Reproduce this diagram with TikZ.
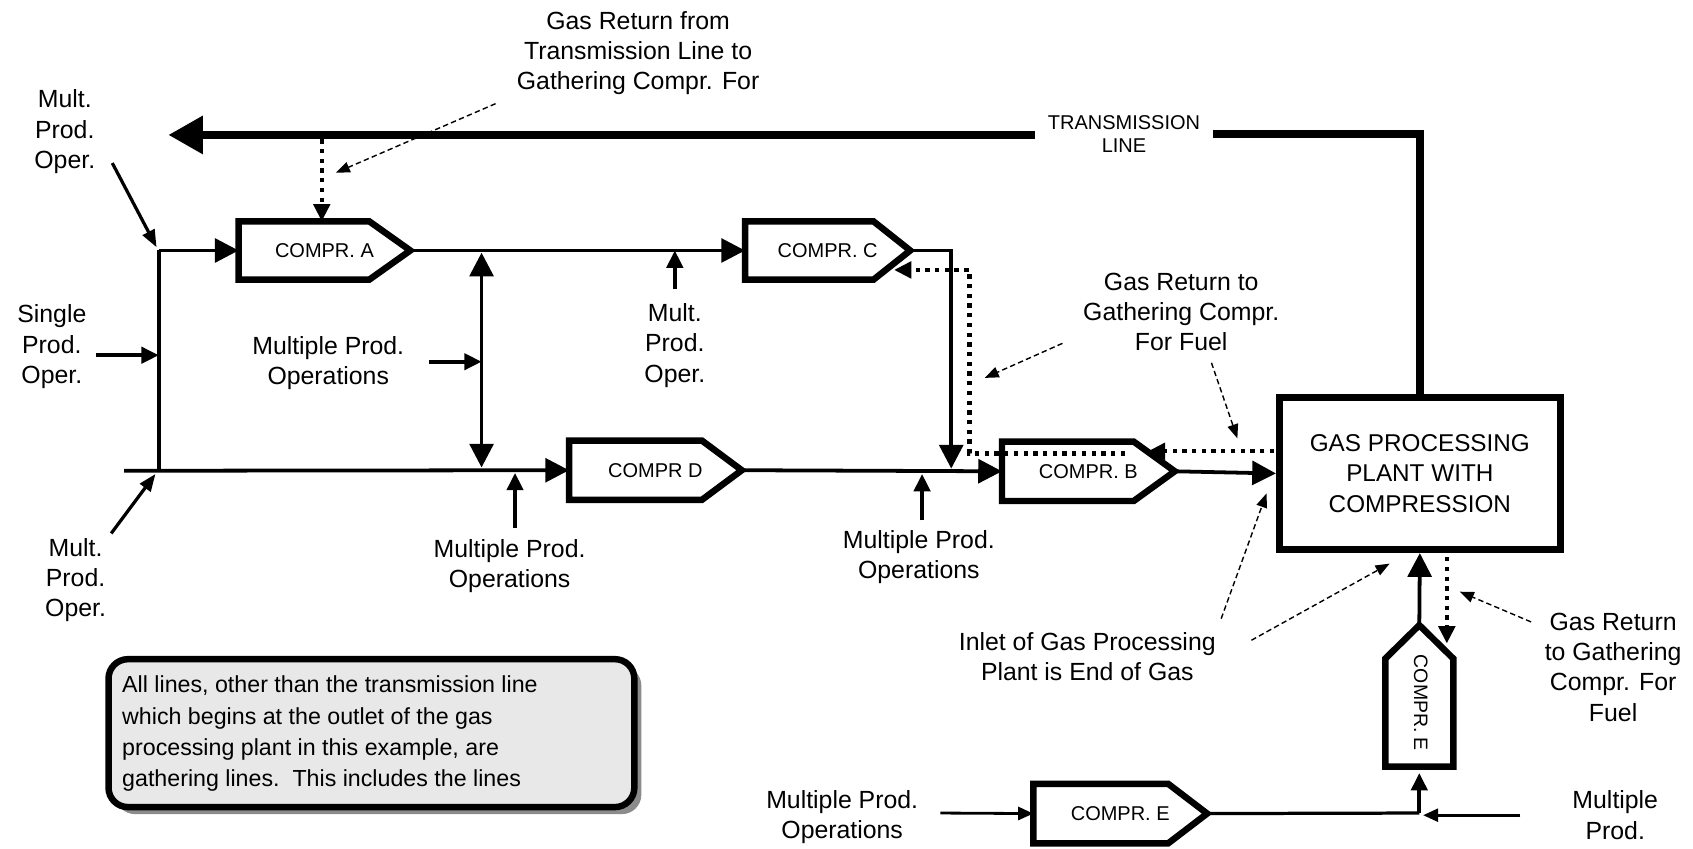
\documentclass[tikz,border=0pt]{standalone}
\usepackage{fontspec}
\setmainfont{Liberation Sans}
\usetikzlibrary{arrows.meta,calc}
\definecolor{notefill}{HTML}{E8E8E8}
\definecolor{noteshadow}{HTML}{8C8C8C}
\begin{document}
\begin{tikzpicture}[x=1pt,y=-1pt,
  lbl/.style={align=center,font=\fontsize{23}{28}\selectfont,inner sep=0pt},
  clabel/.style={font=\fontsize{18.5}{21}\selectfont,inner sep=0pt,outer sep=0pt},
  compr/.style={line width=6pt,line join=miter},
  flow/.style={line width=3.5pt,-{Triangle[length=22pt,width=22pt]}},
  feed/.style={line width=3.5pt,-{Triangle[length=16pt,width=15pt]}},
  thinfeed/.style={line width=2.6pt,-{Triangle[length=14pt,width=12pt]}},
  dots/.style={line width=4pt,dash pattern=on 4pt off 5pt,-{Triangle[length=16pt,width=15pt]}},
  remark/.style={line width=1.3pt,dash pattern=on 5pt off 3pt,-{Triangle[length=13pt,width=10pt]}},
  ptr/.style={line width=3pt,-{Triangle[length=16pt,width=12pt]}}
]
\useasboundingbox (0,0) rectangle (1568,786);

% ---------- compressors (node covers box incl. tip) ----------
\node[clabel,minimum width=159pt,minimum height=54pt] (A) at (300.5,232) {COMPR. A};
\node[clabel,minimum width=153pt,minimum height=54pt] (C) at (766.5,232) {COMPR. C};
\node[clabel,minimum width=160pt,minimum height=55pt] (D) at (607,435.5) {COMPR D};
\node[clabel,minimum width=160pt,minimum height=55pt] (B) at (1008,436.5) {COMPR. B};
\node[clabel,minimum width=161pt,minimum height=55pt] (F) at (1037.5,753.5) {COMPR. E};
\foreach \n/\s in {A/38,C/34,D/37,B/38,F/36}{
  \draw[compr] (\n.north west) -- ($(\n.north east)+(-\s,0)$) -- (\n.east)
     -- ($(\n.south east)+(-\s,0)$) -- (\n.south west) -- cycle;
}
% vertical compressor E
\node[minimum width=63pt,minimum height=131pt,inner sep=0pt,outer sep=0pt] (E) at (1314.5,644.5) {};
\draw[compr] (E.south west) -- (E.south east) -- ($(E.north east)+(0,31)$) -- (E.north)
   -- ($(E.north west)+(0,31)$) -- cycle;
\node[font=\fontsize{18}{20}\selectfont,rotate=-90,inner sep=0pt] (Elbl) at (1316,651) {COMPR. E};

% ---------- gas processing plant ----------
\node[draw,line width=6.5pt,minimum width=260pt,minimum height=141pt,align=center,
      font=\fontsize{22.5}{28}\selectfont] (P) at (1315,438.5)
      {GAS PROCESSING\\PLANT WITH\\COMPRESSION};

% ---------- transmission line ----------
\node[align=center,font=\fontsize{18.5}{21}\selectfont,inner sep=0pt,minimum width=164pt] (TL) at (1041,124)
      {TRANSMISSION\\LINE};
\coordinate (tEnd) at (156,125);
\draw[line width=7pt,line join=miter] (P.north) |- (TL.east);
\draw[line width=7pt,-{Triangle[length=32pt,width=34pt]}] (TL.west |- tEnd) -- (tEnd);

% ---------- gathering lines ----------
\coordinate (j1) at (147,232);
\coordinate (j2) at (147,436);
\coordinate (b0) at (115,436);
\draw[line width=3.5pt] (j1) -- (j2);
\draw[flow] (j1) -- (A.west);
\draw[flow] (b0) -- (D.west);
\draw[flow] (A.east) -- (C.west);
\coordinate (cdown) at (881,232);
\coordinate (cend) at (881,434);
\draw[line width=3.5pt,line join=miter,-{Triangle[length=22pt,width=22pt]}] (C.east) -- (cdown) -- (cend);
\draw[flow] (D.east) -- (B.west);
\draw[flow] (B.east) -- (P.west);
\coordinate (m1) at (446,234);
\coordinate (m2) at (446,433);
\draw[line width=3.5pt,{Triangle[length=22pt,width=22pt]}-{Triangle[length=22pt,width=22pt]}] (m1) -- (m2);

% ---------- E and F ----------
\coordinate (Ej) at (1314.5,753);
\coordinate (Fr) at (1408,755);
\coordinate (Frt) at (1318,755);
\coordinate (Fl) at (871,753);
\draw[flow] (E.north) -- (P.south);
\draw[line width=3pt] (F.east) -- (Ej);
\draw[feed] (Ej) -- ($(E.south)+(0,6)$);
\draw[thinfeed] (Fr) -- (Frt);
\draw[thinfeed] (Fl) -- (F.west);

% ---------- dotted fuel-return lines ----------
\coordinate (tA) at (298,129);
\draw[dots] (tA) -- (tA |- A.north);
\coordinate (pd1) at (1180,418);
\coordinate (bd1) at (1063,418);
\draw[dots] (pd1) -- (bd1);
\coordinate (bd2) at (1042,420);
\coordinate (cd1) at (898,420);
\coordinate (cd2) at (898,250);
\coordinate (cd3) at (828,250);
\draw[dots] (bd2) -- (cd1) -- (cd2) -- (cd3);
\coordinate (pe1) at (1340,516);
\coordinate (pe2) at (1340,596);
\draw[dots] (pe1) -- (pe2);

% ---------- labels ----------
\node[lbl] (GR1) at (591,49) {Gas Return from\\Transmission Line to\\Gathering Compr. For};
\node[lbl] (ML1) at (60,122) {Mult.\\Prod.\\Oper.};
\node[lbl] (SP) at (48,321) {Single\\Prod.\\Oper.};
\node[lbl] (ML2) at (70,537) {Mult.\\Prod.\\Oper.};
\node[lbl] (MP1) at (304,336) {Multiple Prod.\\Operations};
\node[lbl] (ML3) at (625,320) {Mult.\\Prod.\\Oper.};
\node[lbl] (MP2) at (472,524) {Multiple Prod.\\Operations};
\node[lbl] (MP3) at (851,516) {Multiple Prod.\\Operations};
\node[lbl] (GR2) at (1094,289) {Gas Return to\\Gathering Compr.\\For Fuel};
\node[lbl] (IN) at (1007,608) {Inlet of Gas Processing\\Plant is End of Gas};
\node[lbl] (GR3) at (1494,618) {Gas Return\\to Gathering\\Compr. For\\Fuel};
\node[lbl] (MP4) at (780,757) {Multiple Prod.\\Operations};
\node[lbl] (MP5) at (1496,755) {Multiple\\Prod.};

% ---------- feed arrows from labels ----------
\coordinate (ml1a) at (104,151);
\coordinate (ml1b) at (145,229);
\draw[ptr] (ml1a) -- (ml1b);
\coordinate (ml2a) at (103,494);
\coordinate (ml2b) at (144,439);
\draw[ptr] (ml2a) -- (ml2b);
\coordinate (spa) at (89,329);
\draw[feed] (spa) -- (j1 |- spa);
\coordinate (mp1a) at (397,335);
\draw[feed] (mp1a) -- (m1 |- mp1a);
\coordinate (ml3a) at (625,268);
\draw[feed] (ml3a) -- (ml3a |- A.east);
\coordinate (mp2a) at (477,489);
\draw[feed] (mp2a) -- (477,438);
\coordinate (mp3a) at (854,482);
\draw[feed] (mp3a) -- (854,439);

% ---------- remark arrows ----------
\coordinate (r1a) at (459,96);   \coordinate (r1b) at (311,160);
\coordinate (r2a) at (984,318);  \coordinate (r2b) at (912,350);
\coordinate (r3a) at (1122,336); \coordinate (r3b) at (1146,406);
\coordinate (r4a) at (1131,573); \coordinate (r4b) at (1173,457);
\coordinate (r5a) at (1159,593); \coordinate (r5b) at (1287,522);
\coordinate (r6a) at (1418,576); \coordinate (r6b) at (1352,548);
\draw[remark] (r1a) -- (r1b);
\draw[remark] (r2a) -- (r2b);
\draw[remark] (r3a) -- (r3b);
\draw[remark] (r4a) -- (r4b);
\draw[remark] (r5a) -- (r5b);
\draw[remark] (r6a) -- (r6b);

% ---------- note box ----------
\fill[noteshadow,rounded corners=18pt] (107,617) rectangle (594,754);
\draw[line width=6pt,fill=notefill,rounded corners=18pt] (100.5,610.5) rectangle (587.5,747.5);
\node[anchor=north west,align=left,inner sep=0pt,font=\fontsize{21.5}{29}\selectfont] (NB) at (113,626)
  {All lines, other than the transmission line\\which begins at the outlet of the gas\\processing plant in this example, are\\gathering lines.\ \ This includes the lines};
\end{tikzpicture}
\end{document}
